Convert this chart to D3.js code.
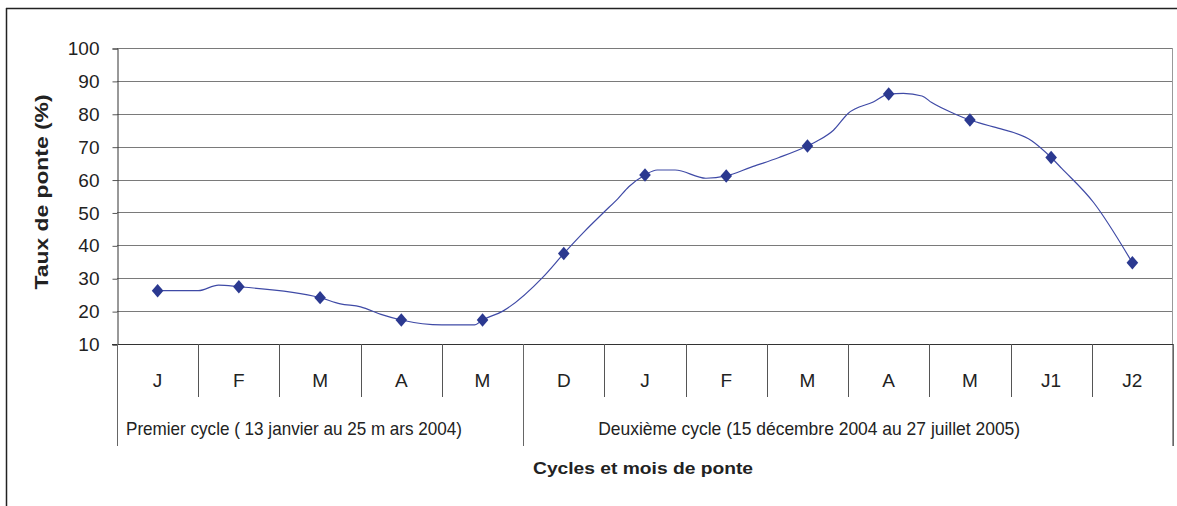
<!DOCTYPE html>
<html>
<head>
<meta charset="utf-8">
<script src="https://cdn.jsdelivr.net/npm/d3@7"></script>
<style>
  body { margin: 0; background: #fff; }
  text { font-family: "Liberation Sans", Arial, sans-serif; fill: #222; }
</style>
</head>
<body>
<svg id="mainsvg" width="1177" height="506"></svg>
<script>
// mois de ponte (axe des x)
const months = ["J", "F", "M", "A", "M", "D", "J", "F", "M", "A", "M", "J1", "J2"];
// taux de ponte relevé à chaque mois (points marqués)
const rates = [26.2, 27.4, 24.1, 17.3, 17.3, 37.5, 61.4, 61.1, 70.2, 86.0, 78.1, 66.7, 34.7];
// courbe lissée : position (en mois) et valeur
const curvePos = [0, 0.5, 0.75, 1, 2, 2.25, 2.5, 2.75, 3, 3.5, 3.9, 4, 4.25, 4.75, 5, 5.25, 5.5, 5.67, 5.8, 6,
  6.15, 6.37, 6.75, 7, 7.3, 7.65, 8, 8.12, 8.32, 8.5, 8.81, 9, 9.18, 9.41, 9.53, 9.8, 10, 10.29, 10.76, 11, 11.13, 11.52, 12];
const curveVal = [26.2, 26.2, 27.9, 27.4, 24.1, 22.2, 21.3, 19.0, 17.3, 15.8, 15.8, 17.3, 20.0, 30.5, 37.5, 44.1, 50.2, 54.3, 57.8, 61.4,
  62.9, 62.9, 60.4, 61.1, 63.7, 66.7, 70.2, 71.7, 75.0, 80.1, 83.6, 86.0, 86.2, 85.4, 83.4, 80.1, 78.1, 76.0, 71.8, 66.7, 63.4, 53.1, 34.7];
// cycles
const cycles = ["Premier cycle ( 13 janvier au 25 m ars 2004)", "Deuxième cycle (15 décembre 2004 au 27 juillet 2005)"];
const cycleStart = [0, 5];
const cycleEnd = [5, 13];
const yTicks = [10, 20, 30, 40, 50, 60, 70, 80, 90, 100];

const svg = d3.select('#mainsvg');
const width = +svg.attr("width");
const height = +svg.attr("height");
const margin = { top: 48, right: 4, left: 117 };
const plotBottom = 344;
const monthRow = 397;
const cycleRow = 446;

// cadre extérieur
svg.append("line").attr("x1", 6).attr("x2", width).attr("y1", 8.5).attr("y2", 8.5)
  .attr("stroke", "#222").attr("stroke-width", 1.5);
svg.append("line").attr("x1", 6.5).attr("x2", 6.5).attr("y1", 8).attr("y2", height)
  .attr("stroke", "#222").attr("stroke-width", 1.5);

const xBand = d3.scaleBand()
  .domain(months.map((d, i) => i))
  .range([margin.left, width - margin.right]);
const xScale = d3.scaleLinear()
  .domain([-0.5, months.length - 0.5])
  .range([margin.left, width - margin.right]);
const yScale = d3.scaleLinear()
  .domain([10, 100])
  .range([plotBottom, margin.top]);

// grille
svg.append("g").selectAll("line").data(yTicks.slice(1)).join("line")
  .attr("x1", margin.left).attr("x2", width - margin.right)
  .attr("y1", d => Math.round(yScale(d)) + 0.5).attr("y2", d => Math.round(yScale(d)) + 0.5)
  .attr("stroke", "#7a7a7a").attr("stroke-width", 1);

// bord droit de la zone de tracé
svg.append("line")
  .attr("x1", width - margin.right - 0.5).attr("x2", width - margin.right - 0.5)
  .attr("y1", margin.top).attr("y2", cycleRow)
  .attr("stroke", "#999");

// axe y
const yAxis = d3.axisLeft(yScale).tickValues(yTicks).tickSize(5).tickPadding(13);
const gy = svg.append("g").attr("transform", `translate(${margin.left + 0.5}, 0.5)`).call(yAxis);
gy.select(".domain").attr("stroke", "#333");
gy.selectAll(".tick line").attr("stroke", "#555");
gy.selectAll(".tick text").attr("font-size", "19px").attr("fill", "#222")
  .attr("font-family", "Liberation Sans, Arial, sans-serif");

// axe x (ligne de base)
svg.append("line").attr("x1", margin.left - 5).attr("x2", width - margin.right)
  .attr("y1", plotBottom + 0.5).attr("y2", plotBottom + 0.5).attr("stroke", "#333");

// séparateurs des mois
svg.append("g").selectAll("line").data(d3.range(months.length + 1)).join("line")
  .attr("x1", i => Math.round(xScale(i - 0.5)) + 0.5).attr("x2", i => Math.round(xScale(i - 0.5)) + 0.5)
  .attr("y1", plotBottom).attr("y2", monthRow)
  .attr("stroke", "#555");

// séparateurs des cycles
svg.append("g").selectAll("line").data([0, 5, 13]).join("line")
  .attr("x1", i => Math.round(xScale(i - 0.5)) + 0.5).attr("x2", i => Math.round(xScale(i - 0.5)) + 0.5)
  .attr("y1", plotBottom).attr("y2", cycleRow)
  .attr("stroke", "#666");

// libellés des mois
svg.append("g").selectAll("text").data(months).join("text")
  .attr("x", (d, i) => xBand(i) + xBand.bandwidth() / 2)
  .attr("y", 387)
  .attr("text-anchor", "middle")
  .attr("font-size", "19px")
  .text(d => d);

// libellés des cycles
const cycleOffset = [9, 75];
const cycleLen = [336, 422];
svg.append("g").selectAll("text").data(cycles).join("text")
  .attr("x", (d, i) => xBand(cycleStart[i]) + cycleOffset[i])
  .attr("y", 435)
  .attr("font-size", "19px")
  .attr("textLength", (d, i) => cycleLen[i])
  .attr("lengthAdjust", "spacingAndGlyphs")
  .text(d => d);

// courbe
const line = d3.line()
  .x(d => xScale(d[0]))
  .y(d => yScale(d[1]))
  .curve(d3.curveMonotoneX);
svg.append("path")
  .datum(curvePos.map((p, i) => [p, curveVal[i]]))
  .attr("d", line)
  .attr("fill", "none")
  .attr("stroke", "#3f4aa6")
  .attr("stroke-width", 1.2);

// marqueurs en losange
const diamond = d3.symbol().type(d3.symbolDiamond2).size(95);
svg.append("g").selectAll("path").data(rates).join("path")
  .attr("d", diamond)
  .attr("transform", (d, i) => `translate(${xScale(i)}, ${yScale(d)}) scale(0.95, 1.1)`)
  .attr("fill", "#2b3990");

// titres des axes
svg.append("text")
  .attr("x", 643).attr("y", 474)
  .attr("text-anchor", "middle")
  .attr("font-size", "17px").attr("font-weight", "bold")
  .attr("textLength", 220).attr("lengthAdjust", "spacingAndGlyphs")
  .text("Cycles et mois de ponte");

svg.append("text")
  .attr("transform", "translate(48, 192) rotate(-90)")
  .attr("text-anchor", "middle")
  .attr("font-size", "18px").attr("font-weight", "bold")
  .attr("textLength", 195).attr("lengthAdjust", "spacingAndGlyphs")
  .text("Taux de ponte (%)");
</script>
</body>
</html>
